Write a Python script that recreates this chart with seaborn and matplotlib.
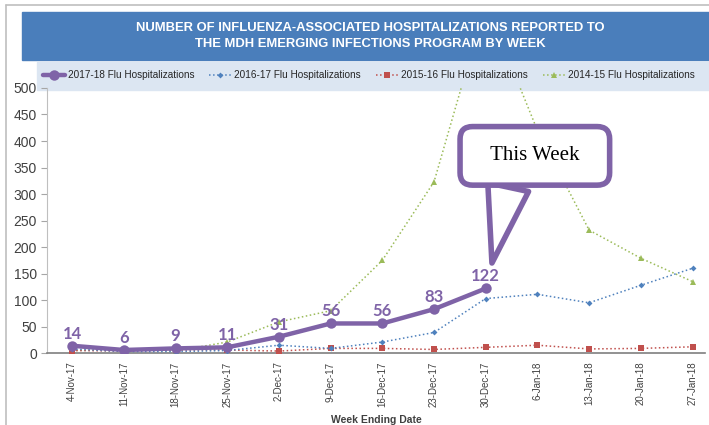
import numpy as np
import pandas as pd
import matplotlib
matplotlib.use("Agg")
import matplotlib.pyplot as plt
from matplotlib.patches import Rectangle
from matplotlib.lines import Line2D
import seaborn as sns

# week ending dates (x axis)
weeks = ["4-Nov-17", "11-Nov-17", "18-Nov-17", "25-Nov-17", "2-Dec-17",
         "9-Dec-17", "16-Dec-17", "23-Dec-17", "30-Dec-17", "6-Jan-18",
         "13-Jan-18", "20-Jan-18", "27-Jan-18"]

# hospitalizations per season
flu_2017_18 = [14, 6, 9, 11, 31, 56, 56, 83, 122]
flu_2016_17 = [8, 3, 3, 5, 15, 9, 21, 39, 103, 111, 95, 128, 160]
flu_2015_16 = [5, 4, 6, 6, 4, 9, 9, 7, 11, 15, 8, 9, 12]
flu_2014_15 = [5, 7, 4, 21, 59, 80, 175, 323, 660, 420, 232, 179, 135]

purple = "#7F63A7"

df = pd.DataFrame({
    "week": np.arange(len(weeks)),
    "s1415": flu_2014_15,
    "s1516": flu_2015_16,
    "s1617": flu_2016_17,
})
df_now = pd.DataFrame({"week": np.arange(len(flu_2017_18)),
                       "hosp": flu_2017_18})

sns.set_style("white")
plt.rcParams["font.family"] = ["Liberation Sans", "DejaVu Sans"]

fig = plt.figure(figsize=(7.09, 4.25), dpi=100)
ax = fig.add_axes([0.066, 0.169, 0.929, 0.624])

# background decorations: frame, title band, legend band
fig.add_artist(Line2D([6 / 709, 6 / 709], [0, 1 - 5 / 425], color="#BFBFBF", lw=1.2))
fig.add_artist(Line2D([6 / 709, 1], [1 - 5 / 425, 1 - 5 / 425], color="#BFBFBF", lw=1.2))
fig.add_artist(Rectangle((22 / 709, 1 - 60 / 425), 1, 48 / 425,
                         transform=fig.transFigure, color="#4A7EBB", zorder=0))
fig.add_artist(Rectangle((37 / 709, 1 - 90 / 425), 1, 28 / 425,
                         transform=fig.transFigure, color="#DCE6F2", zorder=0))
fig.text(0.522, 1 - 36 / 425,
         "NUMBER OF INFLUENZA-ASSOCIATED HOSPITALIZATIONS REPORTED TO\n"
         "THE MDH EMERGING INFECTIONS PROGRAM BY WEEK",
         ha="center", va="center", color="white", fontsize=9.4,
         fontweight="bold", linespacing=1.5)

ax.patch.set_alpha(0)

sns.lineplot(data=df, x="week", y="s1415", ax=ax, color="#9BBB59", lw=1.1,
             linestyle=":", marker="^", markersize=4, markeredgewidth=0,
             label="2014-15 Flu Hospitalizations", zorder=2)
sns.lineplot(data=df, x="week", y="s1516", ax=ax, color="#C0504D", lw=1.1,
             linestyle=":", marker="s", markersize=4.5, markeredgewidth=0,
             label="2015-16 Flu Hospitalizations", zorder=3)
sns.lineplot(data=df, x="week", y="s1617", ax=ax, color="#4F81BD", lw=1.1,
             linestyle=":", marker="D", markersize=3, markeredgewidth=0,
             label="2016-17 Flu Hospitalizations", zorder=4)
sns.lineplot(data=df_now, x="week", y="hosp", ax=ax, color=purple, lw=3.2,
             marker="o", markersize=7.5, markeredgewidth=0,
             label="2017-18 Flu Hospitalizations", zorder=5)

# data labels on this season
for x, y in zip(df_now["week"], df_now["hosp"]):
    ax.annotate(str(y), (x, y), xytext=(0, 3), textcoords="offset points",
                ha="center", va="bottom", color=purple, fontsize=12,
                fontweight="bold", family=["Lato", "DejaVu Sans"])

# "This Week" callout pointing at the latest week
last = len(flu_2017_18) - 1
ax.annotate("  This Week  ", xy=(last + 0.12, flu_2017_18[-1] + 48),
            xytext=(last + 0.95, flu_2017_18[-1] + 250),
            ha="center", va="center", fontsize=15,
            family=["Liberation Serif", "DejaVu Serif"], color="black",
            bbox=dict(boxstyle="round,pad=0.95,rounding_size=0.6",
                      fc="white", ec=purple, lw=4),
            arrowprops=dict(arrowstyle="wedge,tail_width=1.5,shrink_factor=0.5",
                            mutation_scale=20, fc="white", ec=purple, lw=4,
                            relpos=(0.3, 0), shrinkA=0, shrinkB=0),
            zorder=10)

ax.set_xlim(-0.49, 12.25)
ax.set_ylim(0, 500)
ax.set_yticks(np.arange(0, 501, 50))
ax.set_xticks(np.arange(len(weeks)))
ax.set_xticklabels(weeks, rotation=90, fontsize=7, color="#404040")
ax.tick_params(axis="y", labelsize=10, labelcolor="#404040", length=4,
               color="#A6A6A6", left=True, pad=3)
ax.tick_params(axis="x", length=0, pad=6)
ax.set_xlabel("Week Ending Date", fontsize=7.5, fontweight="bold",
              color="#404040", labelpad=5.5)
ax.set_ylabel("")
for s in ["top", "right"]:
    ax.spines[s].set_visible(False)
ax.spines["left"].set_color("#BFBFBF")
ax.spines["bottom"].set_color("#7F7F7F")
ax.spines["bottom"].set_linewidth(1.2)

handles, labels = ax.get_legend_handles_labels()
ax.get_legend().remove()
order = [3, 2, 1, 0]
fig.legend([handles[i] for i in order], [labels[i] for i in order],
           loc="center", bbox_to_anchor=(0.52, 1 - 75 / 425), ncol=4,
           frameon=False, fontsize=7.2, handlelength=2.2, handletextpad=0.3,
           columnspacing=1.5)

fig.savefig("out.png", dpi=100)
